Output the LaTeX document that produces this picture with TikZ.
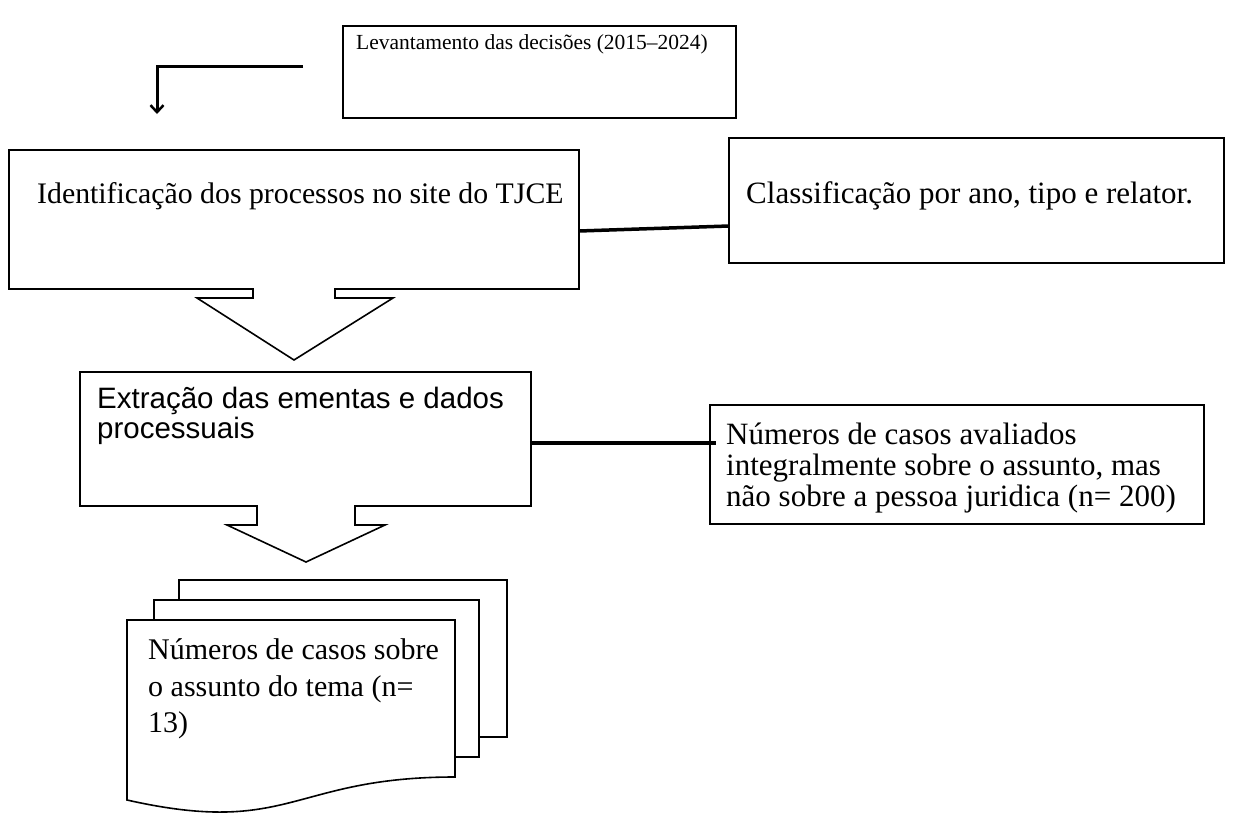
\documentclass[tikz,border=0pt]{standalone}
\usepackage{fontspec}
\usetikzlibrary{arrows.meta}
\setmainfont{Liberation Serif}
\newfontfamily\arialfont{Liberation Sans}
\begin{document}
\begin{tikzpicture}[x=1pt,y=-1pt,
  boxline/.style={draw=black,line width=1.6pt},
  conn/.style={draw=black,line width=3.5pt},
  txt/.style={anchor=base west,inner sep=0pt,font=\fontsize{#1}{#1}\selectfont},
  sanstxt/.style={anchor=base west,inner sep=0pt,font=\arialfont\fontsize{#1}{#1}\selectfont},
  blockarrow/.style={draw=black,line width=1.6pt,line join=miter}]
\useasboundingbox (0,0) rectangle (1243,814);
\fill[white] (0,0) rectangle (1243,814);

% top box
\draw[boxline] (343,26) rectangle (736,118);
\node[txt=21.5] (t1) at (356,49) {Levantamento das decisões (2015–2024)};
% elbow arrow
\coordinate (e1) at (303,66);
\coordinate (e2) at (157,66);
\coordinate (e3) at (157,114);
\draw[line width=3pt,-{Straight Barb[length=7pt,width=13pt,line width=2.5pt]}] (e1) -- (e2) -- (e3);

% box 2
\draw[boxline] (9,150) rectangle (579,289);
\node[txt=29.8] (t2) at (37,203) {Identificação dos processos no site do TJCE};
% classification box
\draw[boxline] (729,138) rectangle (1224,263);
\node[txt=31] (t3) at (746,203) {Classificação por ano, tipo e relator.};
\coordinate (c1) at (579,231);
\coordinate (c2) at (729,226);
\draw[conn] (c1) -- (c2);

% block arrow 1
\fill[white] (254,286) rectangle (334,292);
\draw[blockarrow] (253,289) -- (253,298) -- (197,298) -- (294,360) -- (393,298) -- (335,298) -- (335,289);

% box 3
\draw[boxline] (80,372) rectangle (531,506);
\node[sanstxt=29.5] (t4) at (97,408) {Extração das ementas e dados};
\node[sanstxt=29.5] (t5) at (97,438) {processuais};

% box 4
\draw[boxline] (710,405) rectangle (1204,524);
\node[txt=31] (t6) at (726,444) {Números de casos avaliados};
\node[txt=31] (t7) at (726,475) {integralmente sobre o assunto, mas};
\node[txt=31] (t8) at (726,506) {não sobre a pessoa juridica (n= 200)};
\coordinate (d1) at (531,443);
\coordinate (d2) at (716,443);
\draw[conn] (d1) -- (d2);

% block arrow 2
\fill[white] (258,503) rectangle (354,509);
\draw[blockarrow] (257,506) -- (257,525) -- (227,525) -- (306,562) -- (385,525) -- (355,525) -- (355,506);

% multi document
\draw[boxline,fill=white] (179,580) rectangle (507,737);
\draw[boxline,fill=white] (154,600) rectangle (479,757);
\draw[boxline,fill=white] (127,620) -- (455,620) -- (455,777) .. controls (291,777) and (291,837) .. (127,800) -- cycle;
\node[txt=30] (t9) at (148,659) {Números de casos sobre};
\node[txt=30] (t10) at (148,696) {o assunto do tema (n=};
\node[txt=30] (t11) at (148,732) {13)};
\end{tikzpicture}
\end{document}
